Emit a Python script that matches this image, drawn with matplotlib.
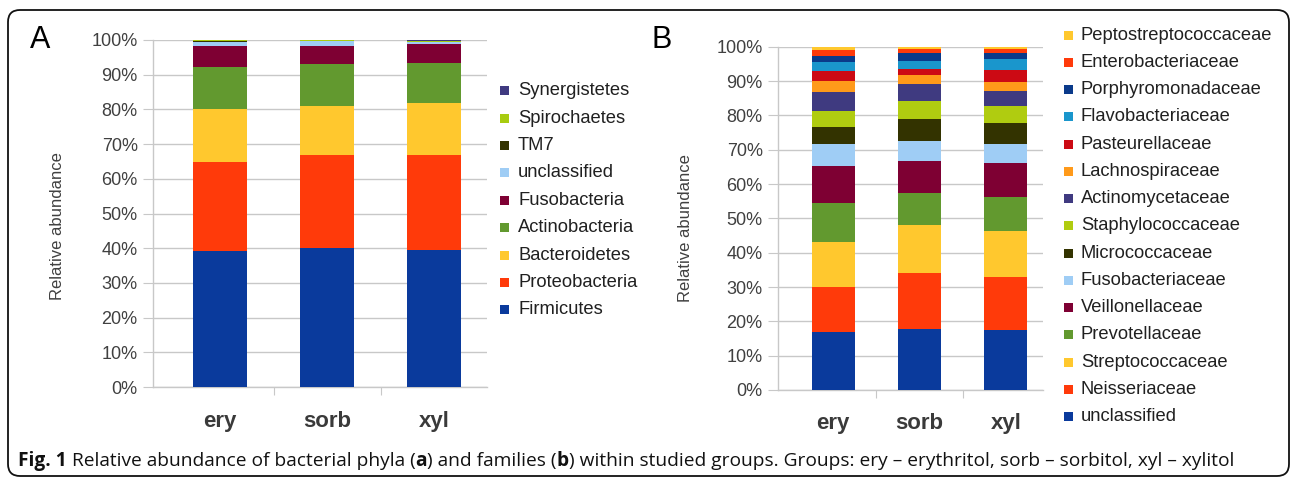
import matplotlib
matplotlib.use("Agg")
import matplotlib.pyplot as plt
import matplotlib.transforms as mtransforms
from matplotlib.patches import Rectangle, FancyBboxPatch
import numpy as np

groups = ["ery", "sorb", "xyl"]

phyla = ["Firmicutes", "Proteobacteria", "Bacteroidetes", "Actinobacteria",
         "Fusobacteria", "unclassified", "TM7", "Spirochaetes", "Synergistetes"]
phyla_colors = ["#0a3a9c", "#ff3a0a", "#ffc82e", "#62992f", "#7e0033",
                "#9fcdf5", "#333300", "#a8cc10", "#3f3a80"]
phyla_ery = [39.2, 25.6, 15.3, 12.1, 6.1, 1.2, 0.1, 0.3, 0.1]
phyla_sorb = [40.0, 26.9, 14.1, 12.1, 5.3, 1.2, 0.1, 0.2, 0.1]
phyla_xyl = [39.5, 27.4, 15.0, 11.4, 5.5, 0.6, 0.1, 0.1, 0.4]

families = ["unclassified", "Neisseriaceae", "Streptococcaceae", "Prevotellaceae",
            "Veillonellaceae", "Fusobacteriaceae", "Micrococcaceae",
            "Staphylococcaceae", "Actinomycetaceae", "Lachnospiraceae",
            "Pasteurellaceae", "Flavobacteriaceae", "Porphyromonadaceae",
            "Enterobacteriaceae", "Peptostreptococcaceae"]
family_colors = ["#0a3a9c", "#ff3a0a", "#ffc82e", "#62992f", "#7e0033",
                 "#9fcdf5", "#333300", "#b0cc10", "#3f3a80", "#ff9a1a",
                 "#cc0a14", "#1a96cc", "#0a3a8a", "#ff3a0a", "#ffc82e"]
fam_ery = [17.0, 12.9, 13.3, 11.2, 10.9, 6.5, 4.9, 4.6, 5.4, 3.3, 2.9, 2.7, 1.8, 1.6, 1.0]
fam_sorb = [17.8, 16.4, 13.9, 9.4, 9.3, 5.8, 6.3, 5.3, 4.8, 2.7, 1.8, 2.4, 2.4, 0.9, 0.8]
fam_xyl = [17.4, 15.5, 13.3, 10.0, 9.8, 5.8, 5.9, 5.1, 4.3, 2.7, 3.4, 3.1, 1.8, 1.1, 0.8]

yticks = [0, 10, 20, 30, 40, 50, 60, 70, 80, 90, 100]
ytick_labels = [f"{v}%" for v in yticks]

W, H = 1292, 479
fig = plt.figure(figsize=(W / 100, H / 100), dpi=100)
FONT = "Liberation Sans"
TXT = "#404040"


def px_rect(x0, y0, x1, y1):
    return [x0 / W, 1 - y1 / H, (x1 - x0) / W, (y1 - y0) / H]


def stacked(ax, series, colors, xlim, width=0.5):
    data = np.array(series).T  # rows: taxa
    x = np.arange(len(groups))
    bottom = np.zeros(len(groups))
    for vals, c in zip(data, colors):
        ax.bar(x, vals, width, bottom=bottom, color=c, edgecolor="none", zorder=3)
        bottom += vals
    ax.set_xlim(*xlim)
    ax.set_ylim(0, 100)
    ax.set_yticks(yticks)
    ax.set_yticklabels(ytick_labels, fontsize=13, color=TXT, family=FONT)
    ax.yaxis.grid(True, color="#c8c8c8", linewidth=1.0, zorder=0)
    ax.set_axisbelow(True)
    ax.tick_params(axis="y", length=7, color="#c8c8c8", pad=4)
    ax.set_xticks([0.5, 1.5], minor=False)
    ax.set_xticklabels([])
    ax.tick_params(axis="x", length=6, color="#c8c8c8")
    for s in ["top", "right"]:
        ax.spines[s].set_visible(False)
    for s in ["left", "bottom"]:
        ax.spines[s].set_color("#c8c8c8")
        ax.spines[s].set_linewidth(1.0)
    for i, g in enumerate(groups):
        ax.text(i, -9.8, g, transform=ax.transData, ha="center", va="center",
                fontsize=16, fontweight="bold", color="#3a3a3a", family=FONT)


axA = fig.add_axes(px_rect(153, 40, 487, 387))
stacked(axA, [phyla_ery, phyla_sorb, phyla_xyl], phyla_colors, (-0.626, 2.495))
axB = fig.add_axes(px_rect(778, 46.7, 1043, 390))
stacked(axB, [fam_ery, fam_sorb, fam_xyl], family_colors, (-0.64, 2.43))


def legend(names, colors, x_sq, x_txt, y_top, step):
    for k, (n, c) in enumerate(zip(reversed(names), reversed(colors))):
        yc = y_top + k * step
        fig.add_artist(Rectangle((x_sq / W, 1 - (yc + 4.5) / H), 9 / W, 9 / H,
                                 transform=fig.transFigure, facecolor=c,
                                 edgecolor="none"))
        fig.text(x_txt / W, 1 - yc / H, n, ha="left", va="center",
                 fontsize=13.2, color="#202020", family=FONT)


legend(phyla, phyla_colors, 500, 518, 90.7, 27.4)
legend(families, family_colors, 1064, 1081, 35, 27.26)

fig.text(58 / W, 1 - 226 / H, "Relative abundance", rotation=90, ha="center",
         va="center", fontsize=12, color=TXT, family=FONT)
fig.text(685 / W, 1 - 228 / H, "Relative abundance", rotation=90, ha="center",
         va="center", fontsize=12, color=TXT, family=FONT)

fig.text(30 / W, 1 - 40 / H, "A", ha="left", va="center", fontsize=22,
         color="black", family=FONT)
fig.text(651 / W, 1 - 40 / H, "B", ha="left", va="center", fontsize=22,
         color="black", family=FONT)

# frame
box = FancyBboxPatch((8, H - 476), W - 8 - 3, 476 - 10,
                     boxstyle="round,pad=0,rounding_size=12",
                     transform=mtransforms.IdentityTransform(),
                     facecolor="none", edgecolor="#111111", linewidth=1.3)
fig.add_artist(box)

# caption
pieces = [("Fig. 1", "bold"),
          (" Relative abundance of bacterial phyla (", "normal"),
          ("a", "bold"),
          (") and families (", "normal"),
          ("b", "bold"),
          (") within studied groups. Groups: ery \u2013 erythritol, sorb \u2013 sorbitol, xyl \u2013 xylitol", "normal")]
renderer = fig.canvas.get_renderer()
xcur = 18
for txt, wt in pieces:
    t = fig.text(xcur / W, 1 - 461 / H, txt, ha="left", va="center",
                 fontsize=13.75, fontweight=wt, color="#111111", family="Open Sans")
    bb = t.get_window_extent(renderer=renderer)
    xcur += bb.width

fig.savefig("out.png", dpi=100)
